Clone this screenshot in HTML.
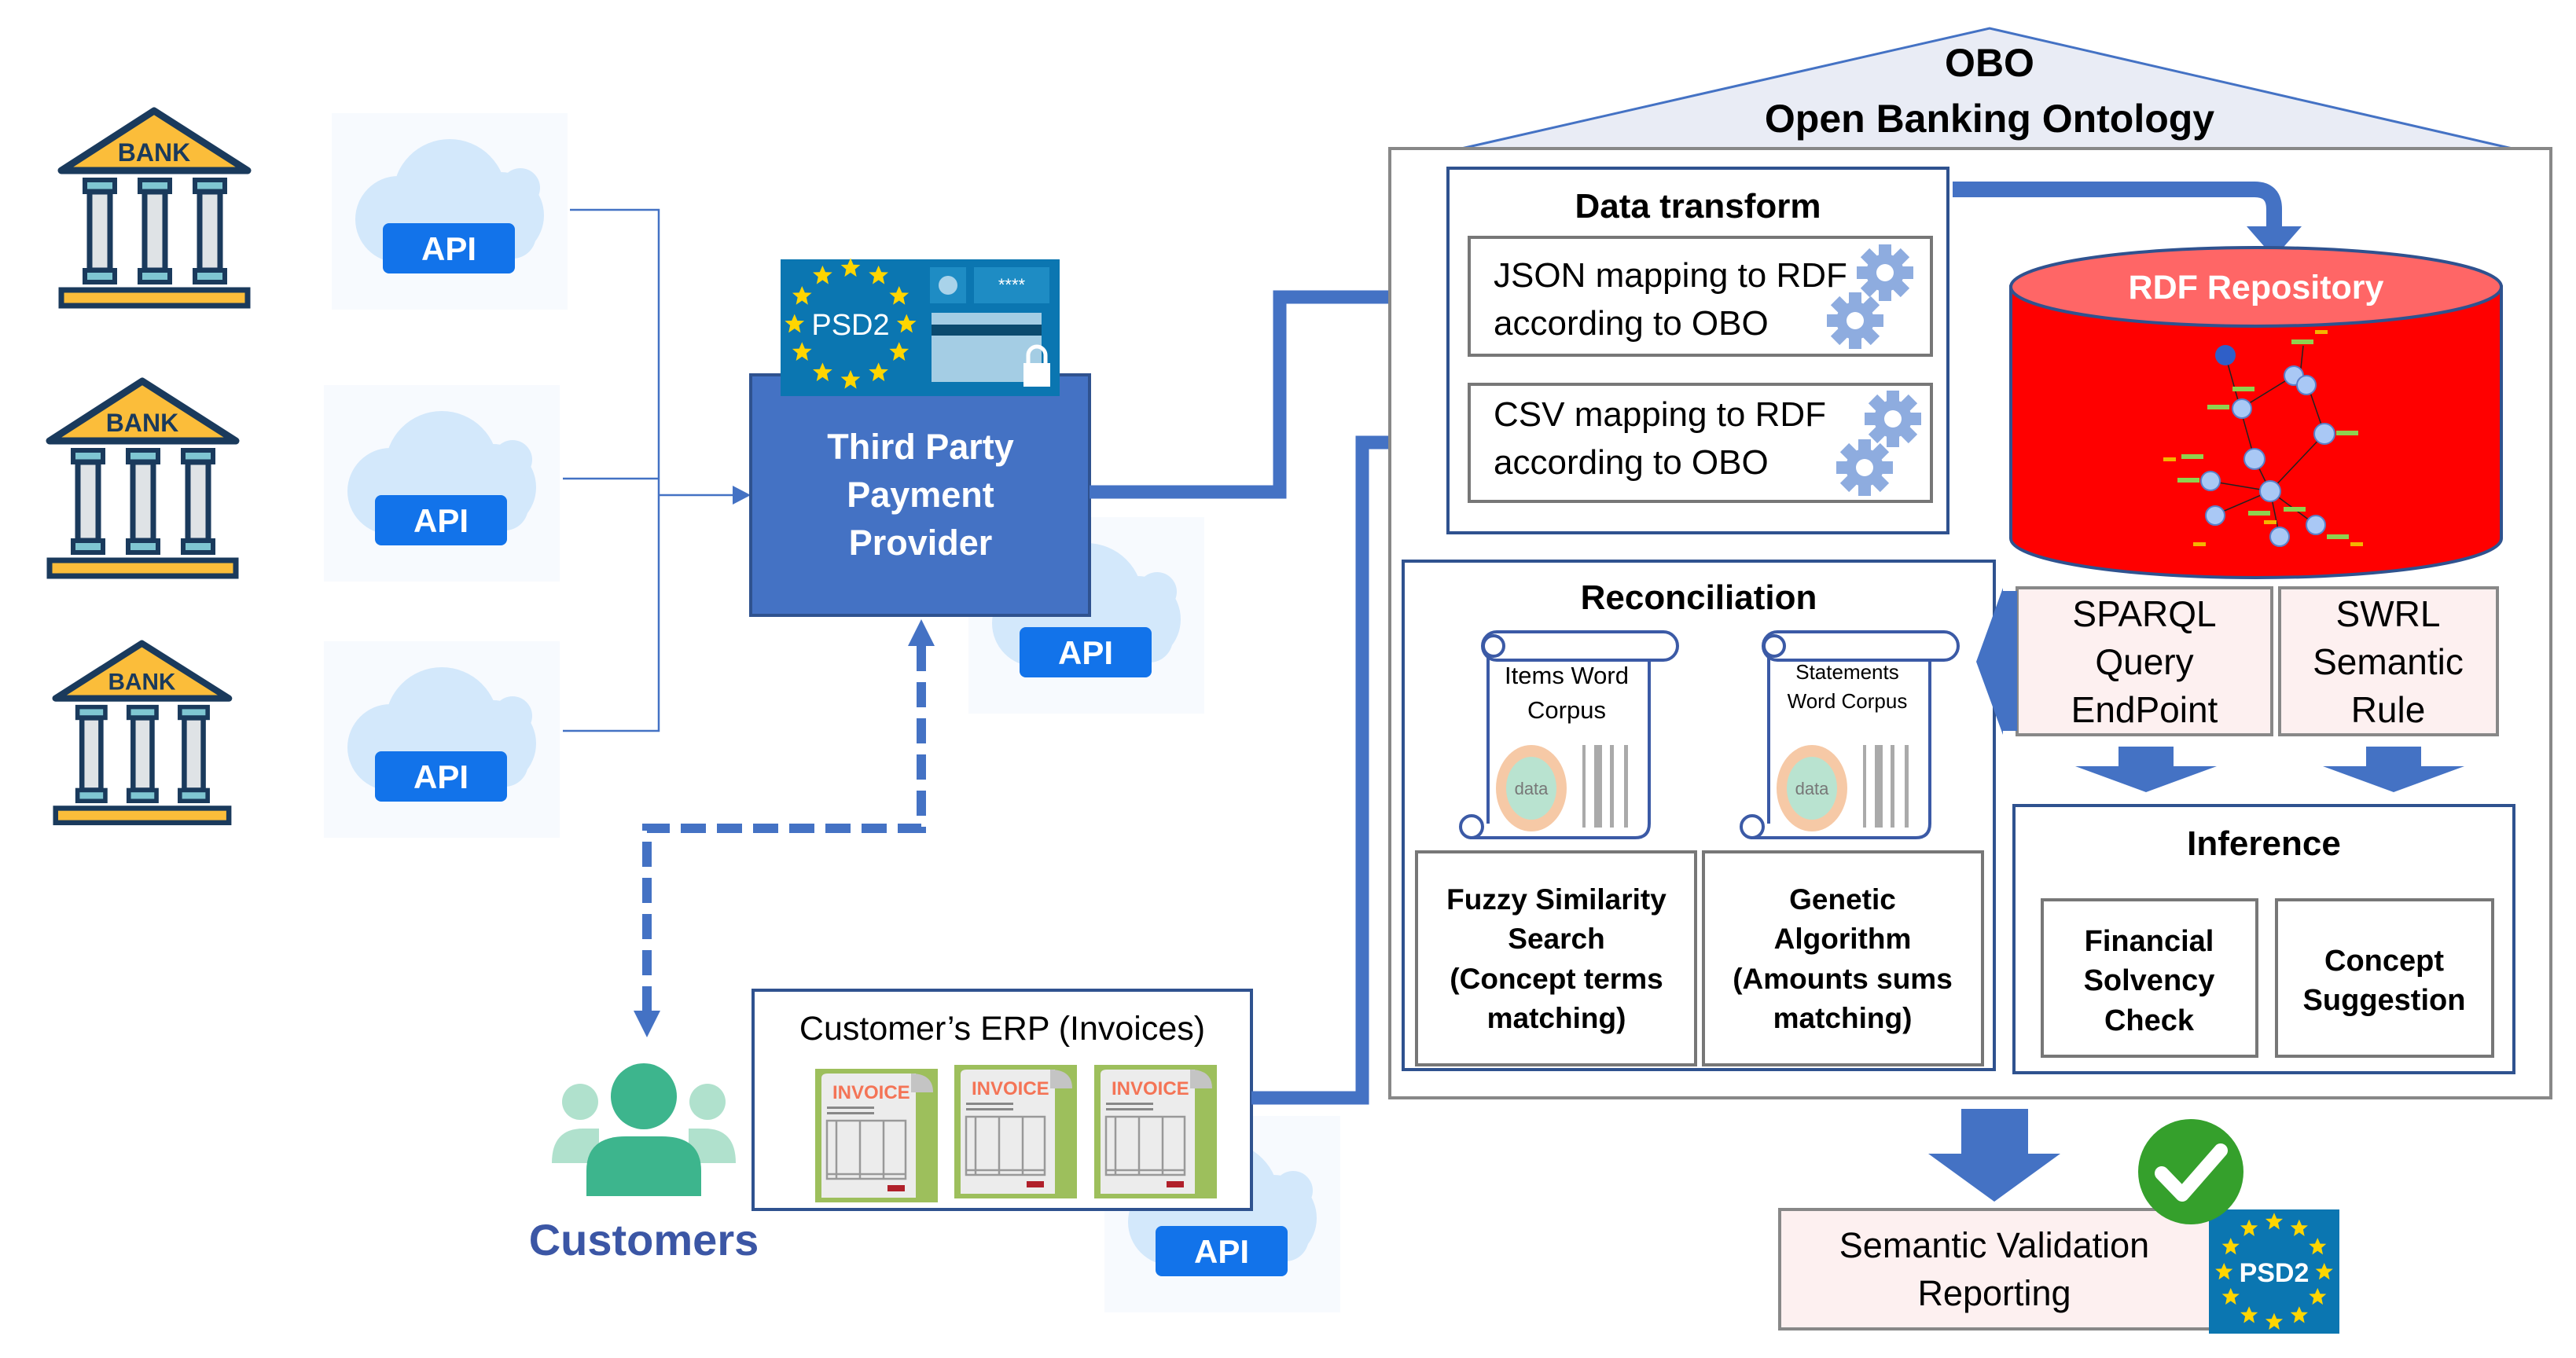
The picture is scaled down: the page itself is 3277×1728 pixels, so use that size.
<!DOCTYPE html>
<html><head><meta charset="utf-8"><style>
html,body{margin:0;padding:0;background:#fff}
svg{display:block}
text{font-family:"Liberation Sans",sans-serif}
</style></head><body>
<svg width="3277" height="1728" viewBox="0 0 3277 1728" xmlns="http://www.w3.org/2000/svg">
<defs>
<polygon id="st" points="0,-13 3.8,-4.2 13,-4 5.9,2.1 8,12 0,6.5 -8,12 -5.9,2.1 -13,-4 -3.8,-4.2" fill="#ffd500"/>
<g id="bank">
 <polygon points="4,80 122,4 241,80" fill="#fbbd3a" stroke="#1a3a5c" stroke-width="9" stroke-linejoin="round"/>
 <text x="122" y="68" font-family="Liberation Serif,serif" font-weight="bold" font-size="32" text-anchor="middle" fill="#1a3a5c">BANK</text>
 <g fill="#7fc6d2" stroke="#1a3a5c" stroke-width="6">
  <rect x="34" y="92" width="38" height="15"/><rect x="104" y="92" width="38" height="15"/><rect x="174" y="92" width="38" height="15"/>
 </g>
 <g fill="#dfe3e6" stroke="#1a3a5c" stroke-width="7">
  <rect x="40" y="107" width="26" height="100"/><rect x="110" y="107" width="26" height="100"/><rect x="180" y="107" width="26" height="100"/>
 </g>
 <g fill="#7fc6d2" stroke="#1a3a5c" stroke-width="6">
  <rect x="34" y="207" width="38" height="15"/><rect x="104" y="207" width="38" height="15"/><rect x="174" y="207" width="38" height="15"/>
 </g>
 <rect x="4" y="232" width="237" height="20" fill="#fbbd3a" stroke="#1a3a5c" stroke-width="7"/>
</g>
<g id="cloud">
 <rect x="0" y="0" width="300" height="250" fill="#f7fafe"/>
 <g fill="#d3e8fb">
  <circle cx="150" cy="105" r="72"/><circle cx="85" cy="135" r="55"/><circle cx="215" cy="130" r="55"/><circle cx="240" cy="95" r="25"/>
  <rect x="50" y="120" width="210" height="65" rx="30"/>
 </g>
 <rect x="65" y="140" width="168" height="64" rx="8" fill="#1273ea"/>
 <text x="149" y="187" font-size="42" font-weight="bold" fill="#fff" text-anchor="middle" font-family="Liberation Mono,monospace">API</text>
</g>
<g id="inv">
 <rect x="0" y="0" width="156" height="170" fill="#9dbf5c"/>
 <path d="M8 12 Q8 6 16 6 L128 6 L128 164 L8 164 Z" fill="#ececec"/>
 <path d="M122 6 Q150 6 150 30 L122 30 Z" fill="#c4c4c4"/>
 <text x="22" y="38" font-size="24" font-weight="bold" fill="#f47456">INVOICE</text>
 <rect x="15" y="48" width="60" height="3" fill="#888"/><rect x="15" y="55" width="60" height="3" fill="#888"/>
 <g fill="none" stroke="#999" stroke-width="2.5"><rect x="15" y="66" width="100" height="74"/><line x1="27" y1="66" x2="27" y2="140"/><line x1="57" y1="66" x2="57" y2="140"/><line x1="87" y1="66" x2="87" y2="140"/><line x1="15" y1="134" x2="115" y2="134"/></g>
 <rect x="92" y="148" width="22" height="8" fill="#b0202a"/>
</g>
<g id="stars">
 <use href="#st" x="75" y="0"/><use href="#st" x="65" y="37.5"/><use href="#st" x="37.5" y="65"/><use href="#st" x="0" y="75"/><use href="#st" x="-37.5" y="65"/><use href="#st" x="-65" y="37.5"/><use href="#st" x="-75" y="0"/><use href="#st" x="-65" y="-37.5"/><use href="#st" x="-37.5" y="-65"/><use href="#st" x="0" y="-75"/><use href="#st" x="37.5" y="-65"/><use href="#st" x="65" y="-37.5"/>
</g>
<g id="gear" fill="#8eacdf">
 <circle r="24"/>
 <g><rect x="-8" y="-36" width="16" height="72"/><rect x="-8" y="-36" width="16" height="72" transform="rotate(45)"/><rect x="-8" y="-36" width="16" height="72" transform="rotate(90)"/><rect x="-8" y="-36" width="16" height="72" transform="rotate(135)"/></g>
 <circle r="11" fill="#fff"/>
</g>
<g id="scroll">
 <rect x="45" y="30" width="205" height="238" fill="#fff"/>
 <path d="M45 30 L45 250 M250 30 L250 250 Q250 268 232 268 L22 268" fill="none" stroke="#3b5aa6" stroke-width="4"/>
 <rect x="38" y="6" width="248" height="36" rx="18" fill="#fff" stroke="#3b5aa6" stroke-width="4"/>
 <circle cx="52" cy="24" r="13" fill="none" stroke="#3b5aa6" stroke-width="4"/>
 <circle cx="24" cy="254" r="14" fill="#fff" stroke="#3b5aa6" stroke-width="4"/>
 <ellipse cx="100" cy="205" rx="45" ry="55" fill="#f6c9a6"/>
 <ellipse cx="100" cy="205" rx="32" ry="40" fill="#b9e3d0"/>
 <text x="100" y="213" font-size="22" fill="#777" text-anchor="middle">data</text>
 <g fill="#aaa"><rect x="165" y="150" width="4" height="105"/><rect x="180" y="150" width="10" height="105"/><rect x="200" y="150" width="5" height="105"/><rect x="218" y="150" width="5" height="105"/></g>
</g>
</defs>

<!-- banks -->
<use href="#bank" transform="translate(74,137)"/>
<use href="#bank" transform="translate(59,481)"/>
<use href="#bank" transform="translate(67,815) scale(0.93,0.92)"/>

<!-- clouds -->
<use href="#cloud" x="422" y="144"/>
<use href="#cloud" x="412" y="490"/>
<use href="#cloud" x="412" y="816"/>
<use href="#cloud" x="1232" y="658"/>
<use href="#cloud" x="1405" y="1420"/>

<!-- thin connectors -->
<g fill="none" stroke="#4472c4" stroke-width="2.5">
 <polyline points="725,267 838,267 838,930 716,930"/>
 <line x1="716" y1="609" x2="838" y2="609"/>
 <line x1="838" y1="630" x2="935" y2="630"/>
</g>
<polygon points="932,618 955,630 932,642" fill="#4472c4"/>

<!-- TPP -->
<rect x="955" y="477" width="431" height="306" fill="#4472c4" stroke="#2f528f" stroke-width="4"/>
<rect x="993" y="330" width="355" height="174" fill="#0b76b1"/>
<g transform="translate(1082,412)"><use href="#stars" transform="scale(0.95)"/></g>
<text x="1082" y="426" font-size="38" fill="#fff" text-anchor="middle">PSD2</text>
<rect x="1183" y="340" width="46" height="46" fill="#1e8cc4"/><circle cx="1206" cy="363" r="12" fill="#a9d3ea"/>
<rect x="1239" y="340" width="96" height="46" fill="#1e8cc4"/><text x="1287" y="370" font-size="22" fill="#fff" text-anchor="middle">****</text>
<rect x="1185" y="398" width="140" height="88" fill="#a4cde4"/><rect x="1185" y="413" width="140" height="14" fill="#0b4a6e"/>
<rect x="1302" y="462" width="34" height="30" fill="#fff"/><path d="M1308 462 v-10 a11 11 0 0 1 22 0 v10" fill="none" stroke="#fff" stroke-width="5"/>
<text x="1171" y="584" font-size="45" font-weight="bold" fill="#fff" text-anchor="middle">Third Party</text>
<text x="1171" y="645" font-size="45" font-weight="bold" fill="#fff" text-anchor="middle">Payment</text>
<text x="1171" y="706" font-size="45" font-weight="bold" fill="#fff" text-anchor="middle">Provider</text>

<!-- dashed -->
<polyline points="1172,822 1172,1054 823,1054 823,1290" fill="none" stroke="#4472c4" stroke-width="12" stroke-dasharray="32,14"/>
<polygon points="1155,822 1172,788 1189,822" fill="#4472c4"/>
<polygon points="806,1286 823,1320 840,1286" fill="#4472c4"/>

<!-- customers -->
<circle cx="738" cy="1402" r="23" fill="#b0e1cd"/><circle cx="900" cy="1402" r="23" fill="#b0e1cd"/>
<path d="M702 1480 Q702 1436 742 1436 L762 1436 L762 1480 Z" fill="#b0e1cd"/>
<path d="M936 1480 Q936 1436 896 1436 L876 1436 L876 1480 Z" fill="#b0e1cd"/>
<circle cx="819" cy="1395" r="42" fill="#3db58d"/>
<path d="M746 1522 L746 1490 Q746 1446 796 1446 L842 1446 Q892 1446 892 1490 L892 1522 Z" fill="#3db58d"/>
<text x="819" y="1597" font-size="56" font-weight="bold" fill="#3b56a5" text-anchor="middle" font-family="DejaVu Sans,sans-serif">Customers</text>

<!-- ERP -->
<rect x="958" y="1260" width="634" height="279" fill="#fff" stroke="#2f528f" stroke-width="4"/>
<text x="1275" y="1323" font-size="43" fill="#000" text-anchor="middle">Customer’s ERP (Invoices)</text>
<use href="#inv" x="1037" y="1360"/><use href="#inv" x="1214" y="1355"/><use href="#inv" x="1392" y="1355"/>

<!-- thick arrows -->
<polyline points="1386,626 1628,626 1628,378 1825,378" fill="none" stroke="#4472c4" stroke-width="17"/>
<polygon points="1805,348 1865,378 1805,408" fill="#4472c4"/>
<polyline points="1592,1397 1733,1397 1733,563 1825,563" fill="none" stroke="#4472c4" stroke-width="17"/>
<polygon points="1805,533 1865,563 1805,593" fill="#4472c4"/>

<!-- OBO roof -->
<polygon points="1859,189 2531,36 3196,189" fill="#e9ecf5" stroke="#4472c4" stroke-width="3"/>
<text x="2531" y="97" font-size="50" font-weight="bold" text-anchor="middle">OBO</text>
<text x="2531" y="168" font-size="50" font-weight="bold" text-anchor="middle">Open Banking Ontology</text>

<!-- outer box -->
<rect x="1768" y="189" width="1477" height="1208" fill="#fff" stroke="#888" stroke-width="4"/>

<!-- Data transform -->
<rect x="1842" y="214" width="636" height="464" fill="#fff" stroke="#2f528f" stroke-width="4"/>
<text x="2160" y="277" font-size="44" font-weight="bold" text-anchor="middle">Data transform</text>
<rect x="1869" y="302" width="588" height="150" fill="#fff" stroke="#777" stroke-width="4"/>
<text x="1900" y="365" font-size="44">JSON mapping to RDF</text>
<text x="1900" y="426" font-size="44">according to OBO</text>
<use href="#gear" transform="translate(2398,347)"/><use href="#gear" transform="translate(2360,408)"/>
<rect x="1869" y="489" width="588" height="149" fill="#fff" stroke="#777" stroke-width="4"/>
<text x="1900" y="542" font-size="44">CSV mapping to RDF</text>
<text x="1900" y="603" font-size="44">according to OBO</text>
<use href="#gear" transform="translate(2408,533)"/><use href="#gear" transform="translate(2372,595)"/>

<!-- arrow to RDF -->
<path d="M2484 241 L2868 241 Q2893 241 2893 266 L2893 292" fill="none" stroke="#4472c4" stroke-width="20"/>
<polygon points="2858,288 2928,288 2893,328" fill="#4472c4"/>

<!-- RDF cylinder -->
<path d="M2558 365 L2558 685 A312 50 0 0 0 3182 685 L3182 365 Z" fill="#ff0000" stroke="#2f528f" stroke-width="4"/>
<ellipse cx="2870" cy="365" rx="312" ry="50" fill="#ff6666" stroke="#2f528f" stroke-width="4"/>
<text x="2870" y="380" font-size="43" font-weight="bold" fill="#fff" text-anchor="middle">RDF Repository</text>
<g stroke="#222" stroke-width="1.5" fill="none">
 <polyline points="2831,452 2850,520 2868,584 2888,625 2900,683"/>
 <polyline points="2850,520 2915,480 2935,488 2957,552 2888,625 2818,655"/>
 <polyline points="2888,625 2810,612"/>
 <polyline points="2888,625 2946,668"/>
 <polyline points="2926,478 2930,440"/>
</g>
<g fill="#a9c8f5" stroke="#5a7fc9" stroke-width="2">
 <circle cx="2868" cy="584" r="13"/><circle cx="2918" cy="478" r="12"/><circle cx="2934" cy="490" r="12"/><circle cx="2957" cy="552" r="13"/><circle cx="2812" cy="612" r="12"/><circle cx="2888" cy="625" r="13"/><circle cx="2818" cy="656" r="12"/><circle cx="2900" cy="683" r="12"/><circle cx="2946" cy="668" r="12"/><circle cx="2852" cy="520" r="12"/>
</g>
<circle cx="2831" cy="452" r="13" fill="#2f5fc8"/>
<g fill="#8fd14f"><rect x="2840" y="492" width="28" height="6"/><rect x="2808" y="515" width="28" height="6"/><rect x="2972" y="548" width="28" height="6"/><rect x="2860" y="650" width="28" height="6"/><rect x="2905" y="645" width="28" height="6"/><rect x="2770" y="608" width="28" height="6"/><rect x="2915" y="432" width="28" height="6"/><rect x="2775" y="578" width="28" height="6"/><rect x="2960" y="680" width="28" height="6"/></g>
<g fill="#f4b400"><rect x="2880" y="662" width="16" height="5"/><rect x="2752" y="582" width="16" height="5"/><rect x="2945" y="420" width="16" height="5"/><rect x="2790" y="690" width="16" height="5"/><rect x="2990" y="690" width="16" height="5"/></g>

<!-- SPARQL / SWRL -->
<rect x="2566" y="748" width="324" height="187" fill="#fdf0f0" stroke="#888" stroke-width="4"/>
<text x="2728" y="797" font-size="46" text-anchor="middle">SPARQL</text>
<text x="2728" y="858" font-size="46" text-anchor="middle">Query</text>
<text x="2728" y="919" font-size="46" text-anchor="middle">EndPoint</text>
<rect x="2900" y="748" width="277" height="187" fill="#fdf0f0" stroke="#888" stroke-width="4"/>
<text x="3038" y="797" font-size="46" text-anchor="middle">SWRL</text>
<text x="3038" y="858" font-size="46" text-anchor="middle">Semantic</text>
<text x="3038" y="919" font-size="46" text-anchor="middle">Rule</text>

<!-- down arrows -->
<polygon points="2695,950 2765,950 2765,975 2820,975 2730,1008 2640,975 2695,975" fill="#4472c4"/>
<polygon points="3010,950 3080,950 3080,975 3135,975 3045,1008 2955,975 3010,975" fill="#4472c4"/>

<!-- Inference -->
<rect x="2562" y="1025" width="636" height="340" fill="#fff" stroke="#2f528f" stroke-width="4"/>
<text x="2880" y="1088" font-size="44" font-weight="bold" text-anchor="middle">Inference</text>
<rect x="2598" y="1145" width="273" height="199" fill="#fff" stroke="#777" stroke-width="4"/>
<text x="2734" y="1210" font-size="38" font-weight="bold" text-anchor="middle">Financial</text>
<text x="2734" y="1260" font-size="38" font-weight="bold" text-anchor="middle">Solvency</text>
<text x="2734" y="1311" font-size="38" font-weight="bold" text-anchor="middle">Check</text>
<rect x="2896" y="1145" width="275" height="199" fill="#fff" stroke="#777" stroke-width="4"/>
<text x="3033" y="1235" font-size="38" font-weight="bold" text-anchor="middle">Concept</text>
<text x="3033" y="1285" font-size="38" font-weight="bold" text-anchor="middle">Suggestion</text>

<!-- Reconciliation -->
<rect x="1785" y="714" width="752" height="647" fill="#fff" stroke="#2f528f" stroke-width="4"/>
<text x="2161" y="775" font-size="44" font-weight="bold" text-anchor="middle">Reconciliation</text>
<use href="#scroll" transform="translate(1848,798)"/>
<text x="1993" y="870" font-size="31" text-anchor="middle">Items Word</text>
<text x="1993" y="914" font-size="31" text-anchor="middle">Corpus</text>
<use href="#scroll" transform="translate(2205,798)"/>
<text x="2350" y="864" font-size="26" text-anchor="middle">Statements</text>
<text x="2350" y="901" font-size="26" text-anchor="middle">Word Corpus</text>
<rect x="1802" y="1084" width="355" height="271" fill="#fff" stroke="#777" stroke-width="4"/>
<text x="1980" y="1157" font-size="37" font-weight="bold" text-anchor="middle">Fuzzy Similarity</text>
<text x="1980" y="1207" font-size="37" font-weight="bold" text-anchor="middle">Search</text>
<text x="1980" y="1258" font-size="37" font-weight="bold" text-anchor="middle">(Concept terms</text>
<text x="1980" y="1308" font-size="37" font-weight="bold" text-anchor="middle">matching)</text>
<rect x="2167" y="1084" width="355" height="271" fill="#fff" stroke="#777" stroke-width="4"/>
<text x="2344" y="1157" font-size="37" font-weight="bold" text-anchor="middle">Genetic</text>
<text x="2344" y="1207" font-size="37" font-weight="bold" text-anchor="middle">Algorithm</text>
<text x="2344" y="1258" font-size="37" font-weight="bold" text-anchor="middle">(Amounts sums</text>
<text x="2344" y="1308" font-size="37" font-weight="bold" text-anchor="middle">matching)</text>

<!-- left arrow to Reconciliation -->
<polygon points="2566,752 2566,930 2548,930 2548,935 2514,842 2548,748 2548,752" fill="#4472c4"/>

<!-- big down arrow -->
<polygon points="2495,1411 2580,1411 2580,1468 2621,1468 2537,1529 2453,1468 2495,1468" fill="#4472c4"/>

<!-- Semantic validation -->
<rect x="2264" y="1539" width="550" height="152" fill="#fdf0f0" stroke="#888" stroke-width="4"/>
<text x="2537" y="1600" font-size="45" text-anchor="middle">Semantic Validation</text>
<text x="2537" y="1661" font-size="45" text-anchor="middle">Reporting</text>
<rect x="2810" y="1539" width="166" height="158" fill="#0b76b1"/>
<g transform="translate(2893,1618)"><use href="#stars" transform="scale(0.85)"/></g>
<text x="2893" y="1631" font-size="34" font-weight="bold" fill="#fff" text-anchor="middle">PSD2</text>
<circle cx="2787" cy="1491" r="67" fill="#35a02c"/>
<polyline points="2750,1493 2776,1520 2825,1464" fill="none" stroke="#fff" stroke-width="18" stroke-linecap="round" stroke-linejoin="round"/>
</svg>
</body></html>
